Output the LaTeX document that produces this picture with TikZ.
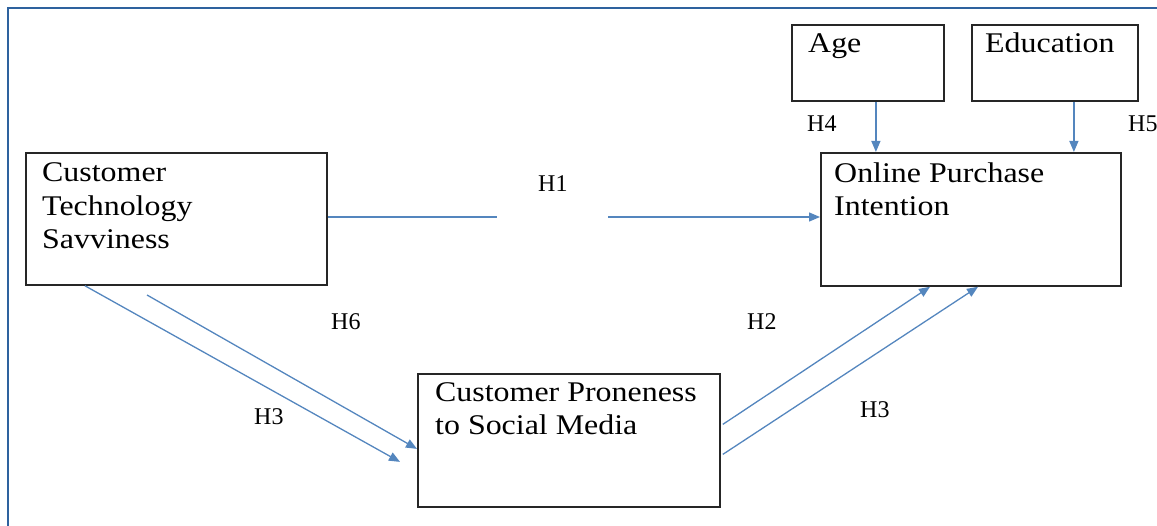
\documentclass[tikz,border=0pt]{standalone}
\usepackage{fontspec}
\setmainfont{Liberation Serif}
\newfontfamily\boxfont[FakeStretch=1.12]{Liberation Serif}
\usetikzlibrary{arrows.meta,calc}
\definecolor{arrowblue}{RGB}{84,134,190}
\definecolor{framecol}{RGB}{46,98,158}
\tikzset{
  box/.style={draw=black!85, line width=1.8pt, anchor=north west, inner sep=0pt},
  boxtext/.style={anchor=base west, inner sep=0pt, align=left, font=\boxfont\fontsize{28.5}{33.5}\selectfont},
  hlabel/.style={anchor=base west, inner sep=0pt, font=\fontsize{24}{28}\selectfont},
  arr/.style={draw=arrowblue, line width=1.3pt, -{Triangle[length=11pt,width=9pt]}},
  plainline/.style={draw=arrowblue, line width=1.3pt}
}
\begin{document}
\begin{tikzpicture}[x=1pt,y=-1pt]
\useasboundingbox (0,0) rectangle (1157,526);
% frame (top and left only)
\draw[framecol, line width=2pt] (8,526) -- (8,8) -- (1157,8);

% boxes
\node[box, minimum width=301pt, minimum height=132pt] (cts) at (25,152) {};
\node[box, minimum width=152pt, minimum height=76pt] (age) at (791,24) {};
\node[box, minimum width=166pt, minimum height=76pt] (edu) at (971,24) {};
\node[box, minimum width=300pt, minimum height=133pt] (opi) at (820,152) {};
\node[box, minimum width=302pt, minimum height=133pt] (cpsm) at (417,373) {};

% box texts (base anchor = baseline of the last line)
\node[boxtext] (ctsT) at (42,249) {Customer\\Technology\\Savviness};
\node[boxtext] (ageT) at (808,53) {Age};
\node[boxtext] (eduT) at (985,53) {Education};
\node[boxtext] (opiT) at (834,216) {Online Purchase\\Intention};
\node[boxtext] (cpsmT) at (435,435) {Customer Proneness\\to Social Media};

% labels
\node[hlabel] (h1) at (538,192) {H1};
\node[hlabel] (h4) at (807,132) {H4};
\node[hlabel] (h5) at (1128,132) {H5};
\node[hlabel] (h6) at (331,330) {H6};
\node[hlabel] (h3a) at (254,425) {H3};
\node[hlabel] (h2) at (747,330) {H2};
\node[hlabel] (h3b) at (860,418) {H3};

% H1 connector with gap
\coordinate (gapL) at (497,217);
\coordinate (gapR) at (608,217);
\draw[plainline] (cts.east |- gapL) -- (gapL);
\draw[arr] (gapR) -- (opi.west |- gapR);

% moderators
\draw[arr] ([xshift=8pt]age.south) -- ([xshift=8pt]age.south |- opi.north);
\draw[arr] ([xshift=19pt]edu.south) -- ([xshift=19pt]edu.south |- opi.north);

% CTS -> CPSM
\coordinate (h6start) at (147,295);
\draw[arr] ($(cts.south west)+(60,0)$) -- ($(cpsm.west)+(-17,21.5)$);
\draw[arr] (h6start) -- ($(cpsm.west)+(0,8.5)$);

% CPSM -> OPI
\draw[arr] ($(cpsm.east)+(2,-16)$) -- ($(opi.south west)+(110,0)$);
\draw[arr] ($(cpsm.east)+(2,14)$) -- ($(opi.south west)+(158,0)$);
\end{tikzpicture}
\end{document}
